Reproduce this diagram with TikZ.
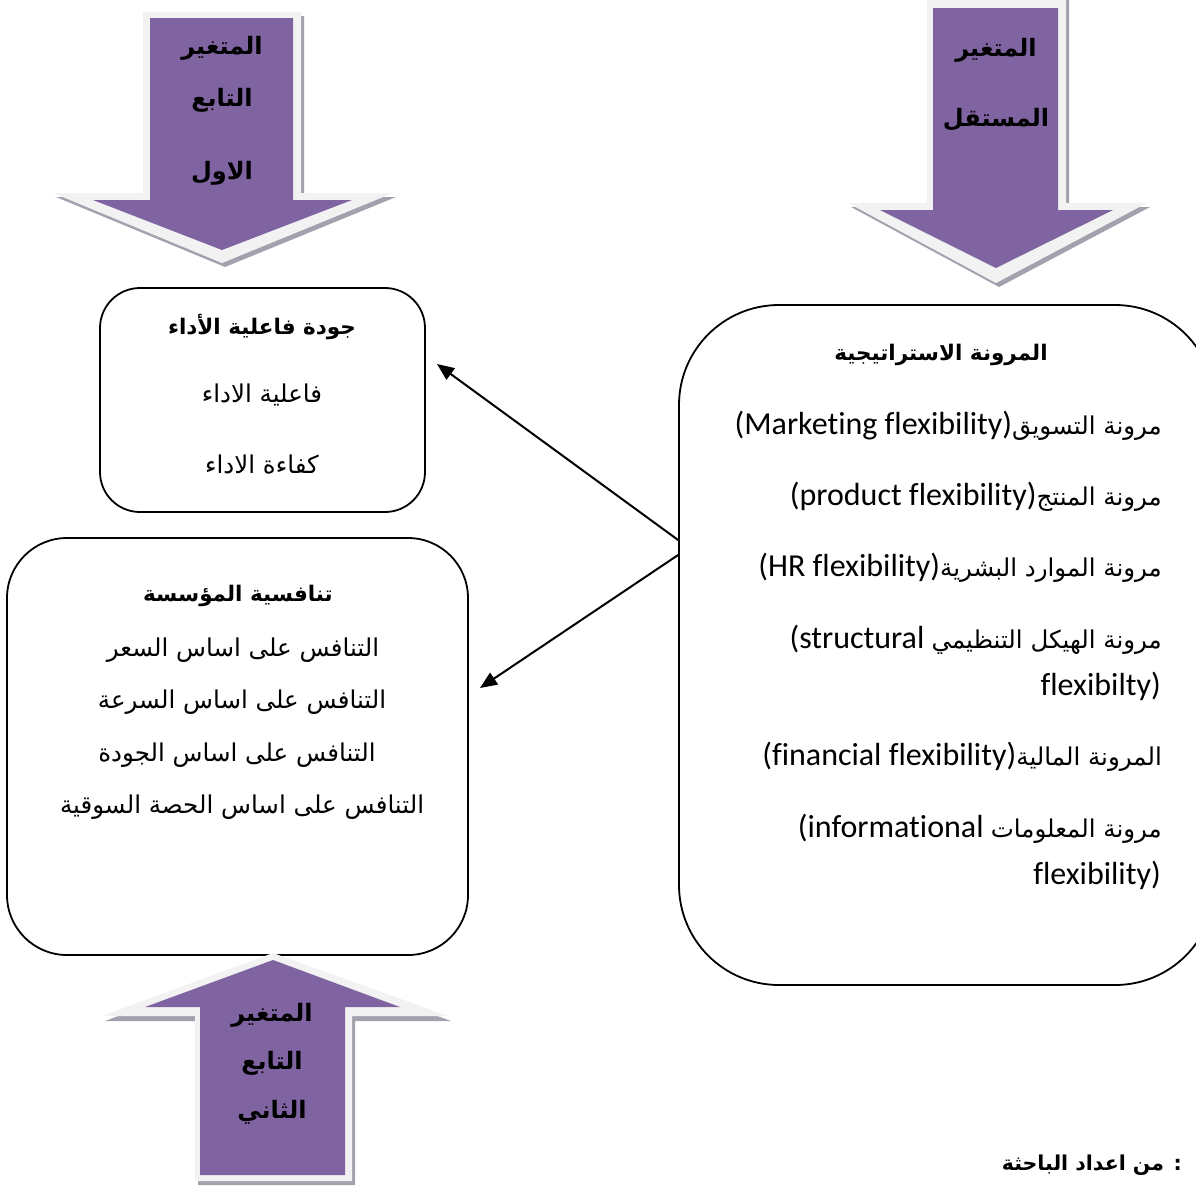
\documentclass[tikz,border=0pt]{standalone}
\usepackage{fontspec}
\setmainfont{Carlito}[Ligatures=NoCommon]
\newfontfamily\arabicfont[Script=Arabic]{DejaVu Sans}
\TeXXeTstate=1
\usetikzlibrary{arrows.meta,calc}

% Arabic run, set right to left
\newcommand\artxt[1]{{\arabicfont\beginR #1\endR}}
% size of the Arabic body text
\newcommand\arsize{\fontsize{24.5}{28}\selectfont}

\definecolor{arrowfill}{HTML}{8064A2}
\definecolor{arrowrim}{HTML}{F2F2F2}
\definecolor{arrowshade}{HTML}{A5A0AE}

\tikzset{
  x=1pt, y=-1pt,
  panel/.style={draw=black, line width=1.8pt, inner sep=0pt},
  conn/.style={line width=2pt, -{Triangle[length=17pt,width=14pt]}},
  bodytxt/.style={inner sep=0pt, font=\arsize},
  headtxt/.style={inner sep=0pt, font=\bfseries\fontsize{21.5}{26}\selectfont},
  notetxt/.style={inner sep=0pt, font=\bfseries\fontsize{20.5}{24}\selectfont},
  lattxt/.style={inner sep=0pt, font=\fontsize{32}{36}\selectfont},
  bigtxt/.style={inner sep=0pt, font=\bfseries\fontsize{24}{28}\selectfont},
  rim/.style={fill=arrowrim, draw=none},
  shade/.style={fill=arrowshade, draw=none},
  core/.style={fill=arrowfill, draw=none},
}

\begin{document}
\begin{tikzpicture}
\useasboundingbox (0,0) rectangle (1196,1187);
\fill[white] (0,0) rectangle (1196,1187);

% ---------- the three panels ----------
\node[panel, rounded corners=40pt, minimum width=325pt, minimum height=224pt] (qual) at (262.5,400) {};
\node[panel, rounded corners=60pt, minimum width=461pt, minimum height=417pt] (comp) at (237.5,746.5) {};
\node[panel, rounded corners=100pt, minimum width=536pt, minimum height=680pt] (flex) at (947,645) {};

% ---------- panel texts ----------
\node[headtxt] (qualT) at (262,327) {\artxt{جودة فاعلية الأداء}};
\node[bodytxt] (qual1) at (262,395) {\artxt{فاعلية الاداء}};
\node[bodytxt] (qual2) at (262,465) {\artxt{كفاءة الاداء}};

\node[headtxt] (compT) at (238,596) {\artxt{تنافسية المؤسسة}};
\node[bodytxt] (comp1) at (243,650) {\artxt{التنافس على اساس السعر}};
\node[bodytxt] (comp2) at (242,702) {\artxt{التنافس على اساس السرعة}};
\node[bodytxt] (comp3) at (237,755) {\artxt{التنافس على اساس الجودة}};
\node[bodytxt] (comp4) at (242,807) {\artxt{التنافس على اساس الحصة السوقية}};

\node[headtxt] (flexT) at (941,355) {\artxt{المرونة الاستراتيجية}};
\node[lattxt, anchor=east] (flex1) at (1162,426) {(Marketing flexibility){\arsize\artxt{مرونة التسويق}}};
\node[lattxt, anchor=east] (flex2) at (1162,497) {(product flexibility){\arsize\artxt{مرونة المنتج}}};
\node[lattxt, anchor=east] (flex3) at (1162,568) {(HR flexibility){\arsize\artxt{مرونة الموارد البشرية}}};
\node[lattxt, anchor=east] (flex4) at (1162,640) {(structural {\arsize\artxt{مرونة الهيكل التنظيمي}}};
\node[lattxt, anchor=east] (flex4b) at (1161,686) {flexibilty)};
\node[lattxt, anchor=east] (flex5) at (1162,757) {(financial flexibility){\arsize\artxt{المرونة المالية}}};
\node[lattxt, anchor=east] (flex6) at (1162,829) {(informational {\arsize\artxt{مرونة المعلومات}}};
\node[lattxt, anchor=east] (flex6b) at (1161,875) {flexibility)};

% ---------- connectors ----------
\coordinate (toQual) at (437,364);
\coordinate (toComp) at (480,688);
\draw[conn] ([yshift=105pt]flex.west) -- (toQual);
\draw[conn] ([yshift=90pt]flex.west) -- (toComp);

% ---------- block arrow: first dependent variable ----------
\fill[shade] (146,16) -- (304,16) -- (304,197) -- (396,197) -- (225,267) -- (56,197) -- (146,197) -- cycle;
\fill[rim] (143,12) -- (301,12) -- (301,193) -- (393,193) -- (222,263) -- (53,193) -- (143,193) -- cycle;
\fill[core] (150,18) -- (293,18) -- (293,200) -- (352,200) -- (222,250) -- (93,200) -- (150,200) -- cycle;
\node[bigtxt] (dep1a) at (222,48) {\artxt{المتغير}};
\node[bigtxt] (dep1b) at (222,100) {\artxt{التابع}};
\node[bigtxt] (dep1c) at (222,173) {\artxt{الاول}};

% ---------- block arrow: independent variable ----------
\fill[shade] (930,-4) -- (1069,-4) -- (1069,207) -- (1150,207) -- (999,287) -- (851,207) -- (930,207) -- cycle;
\fill[rim] (927,-8) -- (1066,-8) -- (1066,203) -- (1147,203) -- (996,283) -- (848,203) -- (927,203) -- cycle;
\fill[core] (933,8) -- (1058,8) -- (1058,210) -- (1113,210) -- (996,268) -- (880,210) -- (933,210) -- cycle;
\node[bigtxt] (indA) at (996,50) {\artxt{المتغير}};
\node[bigtxt] (indB) at (996,120) {\artxt{المستقل}};

% ---------- block arrow: second dependent variable ----------
\fill[shade] (198,1185) -- (355,1185) -- (355,1021) -- (451,1021) -- (276,957) -- (105,1021) -- (198,1021) -- cycle;
\fill[rim] (195,1181) -- (352,1181) -- (352,1016) -- (448,1016) -- (273,953) -- (102,1016) -- (195,1016) -- cycle;
\fill[core] (200,1175) -- (345,1175) -- (345,1007) -- (400,1007) -- (273,960) -- (145,1007) -- (200,1007) -- cycle;
\node[bigtxt] (dep2a) at (272,1015) {\artxt{المتغير}};
\node[bigtxt] (dep2b) at (272,1063) {\artxt{التابع}};
\node[bigtxt] (dep2c) at (272,1112) {\artxt{الثاني}};

% ---------- source note ----------
\node[notetxt, anchor=east] (note) at (1182,1165) {\artxt{: من اعداد الباحثة}};
\end{tikzpicture}
\end{document}
